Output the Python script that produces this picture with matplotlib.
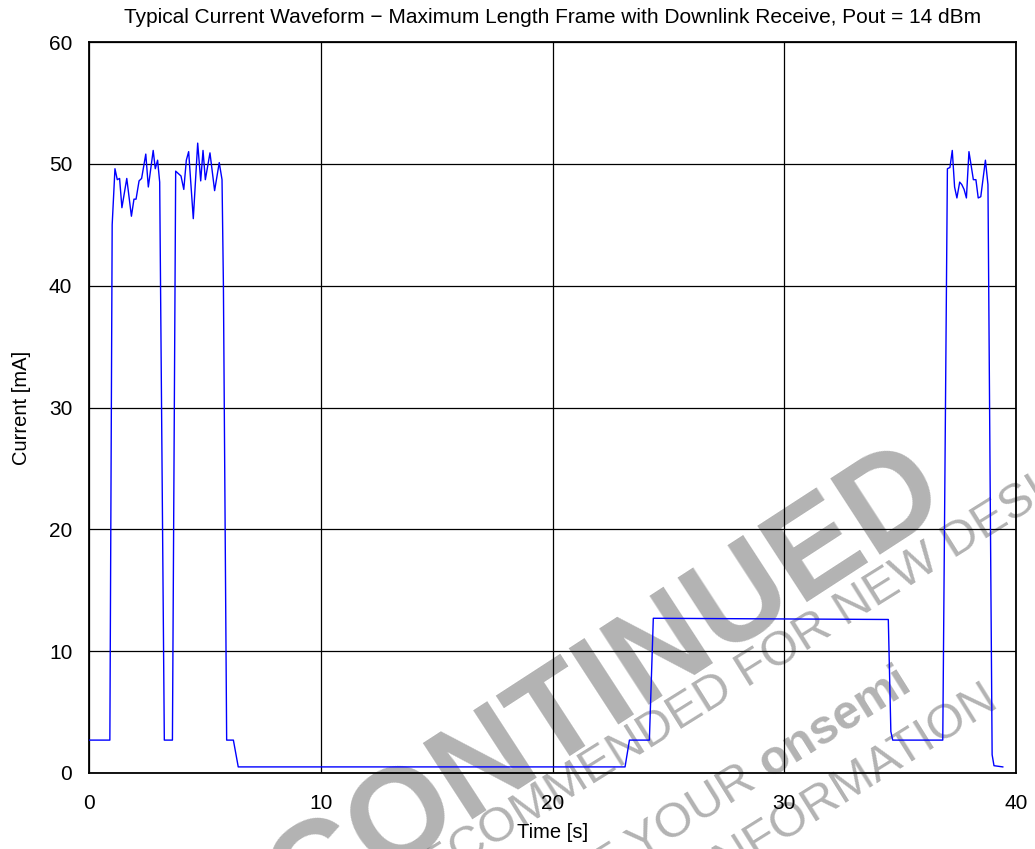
import matplotlib
matplotlib.use("Agg")
import matplotlib.pyplot as plt

plt.rcParams['font.family'] = ['Liberation Sans', 'DejaVu Sans']
plt.rcParams['mathtext.fontset'] = 'custom'
plt.rcParams['mathtext.rm'] = 'Liberation Sans'
plt.rcParams['mathtext.bf'] = 'Liberation Sans:bold'

# current waveform
time_s = [0, 0.9, 1.0, 1.12, 1.22, 1.32, 1.42, 1.63, 1.83, 1.94, 2.03, 2.16, 2.27,
          2.45, 2.56, 2.77, 2.86, 2.96, 3.05, 3.25, 3.6,
          3.74, 3.97, 4.09, 4.2, 4.3, 4.5, 4.69, 4.82, 4.92, 5.02, 5.22, 5.42,
          5.62, 5.74, 5.8, 5.94, 6.23, 6.44,
          23.13, 23.32, 24.18, 24.35, 34.49, 34.6, 34.68, 36.84,
          37.04, 37.15, 37.25, 37.35, 37.45, 37.57, 37.66, 37.76, 37.86, 37.97,
          38.07, 38.16, 38.27, 38.37, 38.48, 38.68, 38.79, 38.97, 39.05, 39.43]
current_ma = [2.7, 2.7, 45.0, 49.6, 48.7, 48.8, 46.4, 48.8, 45.7, 47.1, 47.1, 48.6, 48.8,
              50.8, 48.1, 51.1, 49.6, 50.3, 48.5, 2.7, 2.7,
              49.4, 49.0, 47.9, 50.3, 51.0, 45.5, 51.7, 48.6, 51.1, 48.7, 50.9, 47.8,
              50.1, 48.7, 40.0, 2.7, 2.7, 0.5,
              0.5, 2.7, 2.7, 12.7, 12.6, 3.4, 2.7, 2.7,
              49.6, 49.7, 51.1, 48.1, 47.2, 48.5, 48.3, 47.9, 47.2, 51.0,
              49.8, 48.7, 48.7, 47.2, 47.3, 50.3, 48.3, 1.5, 0.6, 0.5]

xticks = [0, 10, 20, 30, 40]
yticks = [0, 10, 20, 30, 40, 50, 60]

fig = plt.figure(figsize=(10.35, 8.49), dpi=100)
ax = fig.add_axes([89 / 1035, 1 - 773 / 849, (1016 - 89) / 1035, (773 - 42) / 849])

ax.plot(time_s, current_ma, color='#0000ff', lw=1.0, zorder=3)
ax.set_xlim(0, 40)
ax.set_ylim(0, 60)
ax.set_xticks(xticks)
ax.set_yticks(yticks)
ax.grid(True, color='black', lw=0.9)
ax.tick_params(axis='x', length=0, pad=15, labelsize=15)
ax.tick_params(axis='y', length=0, pad=12, labelsize=15)
for s in ax.spines.values():
    s.set_linewidth(1.3)

ax.set_title('Typical Current Waveform \u2212 Maximum Length Frame with Downlink Receive, Pout = 14 dBm',
             fontsize=15, pad=14)
ax.set_xlabel('Time [s]', fontsize=14.5, labelpad=7)
ax.set_ylabel('Current [mA]', fontsize=14.5, labelpad=13)

# watermark
def px(x, y):
    return x / 1035, 1 - y / 849

wm = dict(transform=fig.transFigure, clip_on=False, color='black', alpha=0.3,
          rotation_mode='anchor', zorder=2.5)
ax.text(*px(515, 745), 'DISCONTINUED', fontsize=94, fontweight='bold', rotation=33,
        ha='center', va='center', **wm)
ax.text(*px(702, 701), 'NOT RECOMMENDED FOR NEW DESIGN', fontsize=35, rotation=32,
        ha='center', va='center', **wm)
ax.text(*px(912, 690), r'PLEASE CONTACT YOUR $\mathbf{onsemi}$', fontsize=35, rotation=32,
        ha='right', va='baseline', **wm)
ax.text(*px(1000, 706), 'REPRESENTATIVE FOR INFORMATION', fontsize=35, rotation=32,
        ha='right', va='baseline', **wm)

fig.savefig('out.png', dpi=100)
